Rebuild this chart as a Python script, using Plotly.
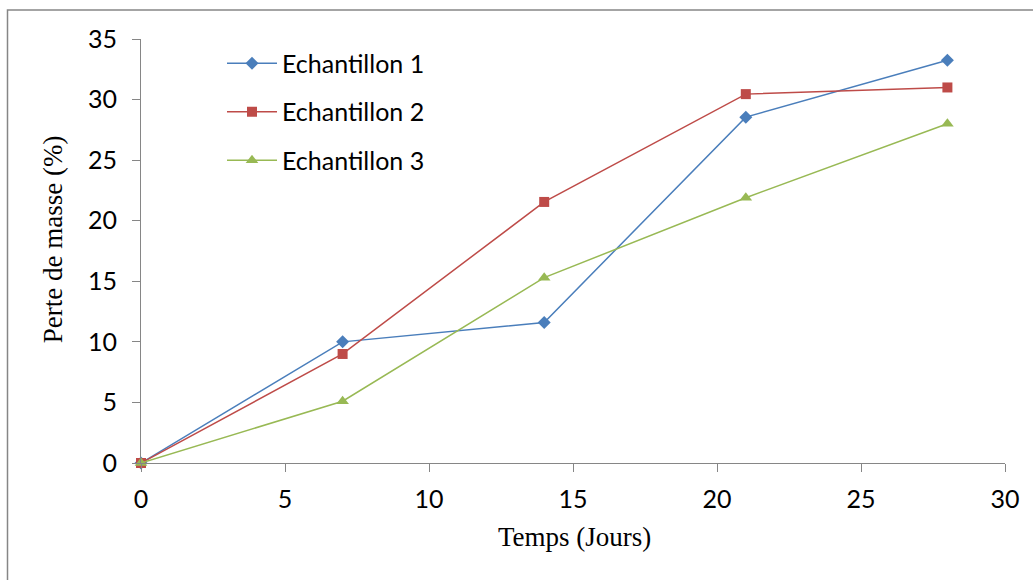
import plotly.graph_objects as go

days = [0, 7, 14, 21, 28]
ech1 = [0, 10.0, 11.6, 28.55, 33.25]
ech2 = [0, 9.0, 21.55, 30.45, 31.0]
ech3 = [0, 5.1, 15.3, 21.9, 28.0]
names = ["Echantillon 1", "Echantillon 2", "Echantillon 3"]
colors = ["#4A7EBB", "#BE4B48", "#98B954"]
symbols = ["diamond", "square", "triangle-up"]
msizes = [10, 10, 11]

W, H = 1033, 580
L, R, T, B = 141, 28, 38.5, 117

fig = go.Figure()
for i, ys in enumerate([ech1, ech2, ech3]):
    fig.add_trace(go.Scatter(
        x=days, y=ys, name=names[i], mode="lines+markers",
        line=dict(color=colors[i], width=1.5),
        marker=dict(symbol=symbols[i], size=msizes[i], color=colors[i]),
        cliponaxis=False, legendgroup=str(i),
    ))

pw = W - L - R
ph = H - T - B

axis_common = dict(
    showgrid=False, zeroline=False, showline=True, linecolor="#868686", linewidth=1,
    ticks="outside", ticklen=8, tickcolor="#868686", tickwidth=1,
    tickfont=dict(family="Lato, Open Sans, sans-serif", size=25, color="#000000"),
)

fig.update_layout(
    width=W, height=H,
    margin=dict(l=L, r=R, t=T, b=B, autoexpand=False),
    paper_bgcolor="white", plot_bgcolor="white",
    xaxis=dict(range=[0, 30], tickvals=[0, 5, 10, 15, 20, 25, 30], ticklabelstandoff=6, **axis_common),
    yaxis=dict(range=[0, 35], tickvals=[0, 5, 10, 15, 20, 25, 30, 35], ticklabelstandoff=10, **axis_common),
    showlegend=True,
    legend=dict(
        x=(222 - L) / pw, y=1 - (40 - T) / ph, xanchor="left", yanchor="top",
        font=dict(family="Lato, Open Sans, sans-serif", size=25, color="#000000"),
        tracegroupgap=13, itemwidth=50, bgcolor="rgba(0,0,0,0)",
    ),
    annotations=[
        dict(text="Temps (Jours)", x=(574 - L) / pw, y=-(537 - (H - B)) / ph,
             xref="paper", yref="paper", showarrow=False, xanchor="center", yanchor="middle",
             font=dict(family="Liberation Serif, Times New Roman, serif", size=27, color="#000000")),
        dict(text="Perte de masse (%)", x=(53 - L) / pw, y=1 - (239 - T) / ph, textangle=-90,
             xref="paper", yref="paper", showarrow=False, xanchor="center", yanchor="middle",
             font=dict(family="Liberation Serif, Times New Roman, serif", size=27, color="#000000")),
    ],
    shapes=[
        dict(type="rect", xref="paper", yref="paper",
             x0=(7.5 - L) / pw, x1=(W + 10 - L) / pw,
             y0=-(H + 10 - (H - B)) / ph, y1=1 + (T - 9.5) / ph,
             line=dict(color="#868686", width=1.5), fillcolor="rgba(0,0,0,0)", layer="below"),
    ],
)

fig.write_html("out.html")
